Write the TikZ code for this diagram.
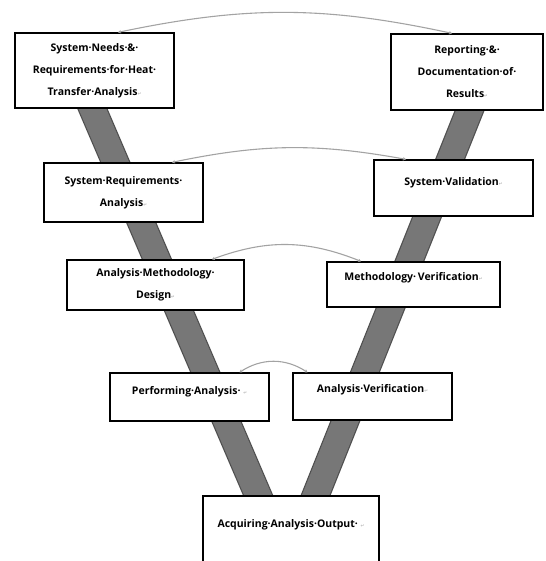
\documentclass[tikz,border=0pt]{standalone}
\usepackage{fontspec}
\setmainfont{Open Sans}
\newfontfamily\markfont{DejaVu Sans}
\usetikzlibrary{arrows.meta,backgrounds}

\definecolor{barfill}{HTML}{777777}
\definecolor{baredge}{HTML}{4F4F4F}
\definecolor{linkgray}{HTML}{A3A3A3}
\newcommand{\pmark}{{\markfont\fontsize{4.5}{5}\selectfont\textcolor{gray!55}{↵}}}

\tikzset{
  stage/.style={draw, line width=1.3pt, fill=white, align=center, inner sep=0pt,
    font=\bfseries\fontsize{10.5}{22}\selectfont},
  vbar/.style={draw=baredge, line width=1.2pt, double=barfill, double distance=25.5pt, line cap=butt},
  link/.style={draw=linkgray, line width=1.1pt, <->}
}

\begin{document}
\begin{tikzpicture}[x=1pt, y=-1pt, >={Stealth[length=3pt,width=3.5pt]}]
  \useasboundingbox (0,0) rectangle (545,561);
  \clip (0,0) rectangle (545,561);
  % left side of the V
  \node[stage, minimum width=159pt, minimum height=75pt] (needs) at (94.5,70.5)
    {System·Needs·\&·\\Requirements·for·Heat·\\Transfer·Analysis\pmark};
  \node[stage, minimum width=159pt, minimum height=59pt] (sysreq) at (123.5,192.5)
    {System·Requirements·\\Analysis\pmark};
  \node[stage, minimum width=177pt, minimum height=50pt] (design) at (155.5,285)
    {Analysis·Methodology·\\Design\pmark};
  \node[stage, minimum width=159pt, minimum height=48pt, text depth=12.5pt] (perform) at (189.5,397)
    {Performing·Analysis·\ \pmark};
  % right side of the V
  \node[stage, minimum width=152pt, minimum height=76pt] (report) at (467,72)
    {Reporting·\&·\\Documentation·of·\\Results\pmark};
  \node[stage, minimum width=159pt, minimum height=56pt, text depth=12.5pt] (sysval) at (453.5,188)
    {System·Validation\pmark};
  \node[stage, minimum width=173pt, minimum height=45pt, text depth=15.5pt] (methver) at (413.5,284.5)
    {Methodology·\,Verification\pmark};
  \node[stage, minimum width=159pt, minimum height=47pt, text depth=15.5pt] (anaver) at (372.5,396.5)
    {Analysis·Verification\pmark};
  % bottom
  \node[stage, minimum width=176pt, minimum height=90pt, text depth=34.5pt] (output) at (291,541)
    {Acquiring·Analysis·Output·\ \pmark};

  \begin{scope}[on background layer]
    \draw[vbar] ([xshift=-18.5pt]needs.center) -- ([xshift=-22.6pt,yshift=-24pt]output.north);
    \draw[vbar] ([xshift=18pt]report.center) -- ([xshift=15pt,yshift=-24pt]output.north);
  \end{scope}

  \draw[link] ([xshift=23.5pt]needs.north) to[bend left=12] ([xshift=-15pt]report.north);
  \draw[link] ([xshift=48.5pt]sysreq.north) to[bend left=11] ([xshift=-47.5pt]sysval.north);
  \draw[link] ([xshift=56.5pt]design.north) to[bend left=21] ([xshift=-52.5pt]methver.north);
  \draw[link] ([xshift=50pt]perform.north) to[bend left=33] ([xshift=-65pt]anaver.north);
\end{tikzpicture}
\end{document}
